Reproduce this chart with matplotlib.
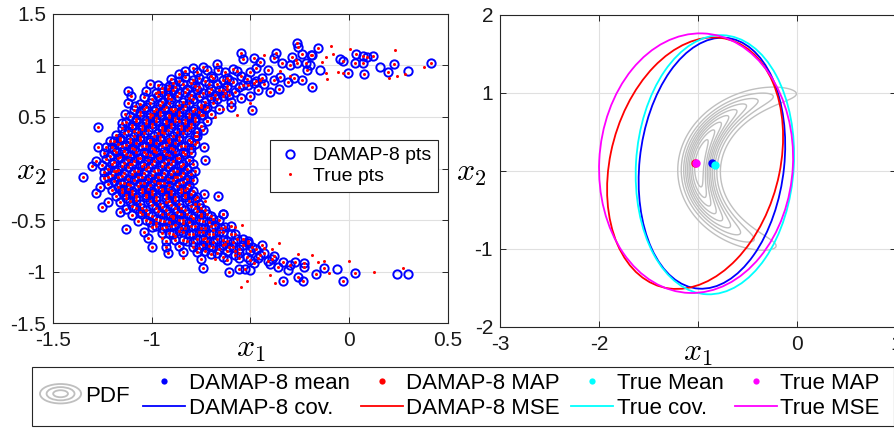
import numpy as np
import matplotlib.pyplot as plt
from matplotlib.patches import Ellipse, Rectangle
from matplotlib.legend_handler import HandlerBase
from matplotlib.lines import Line2D

plt.rcParams['font.family'] = ['Liberation Sans', 'DejaVu Sans']
plt.rcParams['mathtext.fontset'] = 'cm'
plt.rcParams['axes.unicode_minus'] = False

CYAN = '#00ffff'
MAGENTA = '#ff00ff'

# ---- left panel: samples (x1, x2) ----
# circle with a red dot in the middle (point in both sets)
both_pts = [
    (-0.265, 1.22), (-0.26, 1.18), (-0.55, 1.12), (-0.37, 1.12), (-0.24, 1.11), (-0.195, 1.10), (-0.16, 1.17),
    (-0.19, 1.10), (-0.54, 1.06), (-0.48, 1.07), (-0.38, 1.07), (-0.29, 1.08), (-0.45, 1.03), (-0.34, 1.02),
    (-0.265, 1.02), (-0.22, 1.02), (-0.30, 1.00), (-0.67, 1.01), (-0.79, 0.98), (-0.74, 0.99), (-0.665, 0.96),
    (-0.59, 0.97), (-0.47, 0.98), (-0.50, 0.94), (-0.41, 0.96), (-0.215, 0.96), (-0.35, 0.89),
    (-0.03, 1.04), (-0.006, 0.93), (0.035, 1.11), (0.03, 1.02), (0.07, 1.09), (0.07, 1.02), (0.09, 1.08),
    (0.12, 1.09), (0.075, 0.92), (0.195, 0.94), (0.225, 1.01), (0.415, 1.02), (-0.19, 0.79),
    (-0.40, 0.74), (-0.356, 0.77), (-0.49, 0.57), (-0.48, 0.83), (-0.51, 0.81), (-0.56, 0.79), (-0.55, 0.68),
    (-0.60, 0.60), (-0.61, 0.71), (-0.64, 0.86), (-0.74, 0.52), (-0.74, 0.37), (-0.77, 0.32),
    (-0.86, 0.92), (-0.89, 0.83), (-0.92, 0.77), (-1.01, 0.82), (-1.12, 0.75), (-1.105, 0.70), (-1.12, 0.64),
    (-1.085, 0.61), (-1.135, 0.53), (-1.27, 0.40), (-1.27, 0.21), (-1.23, 0.21), (-1.19, 0.27), (-1.28, 0.07),
    (-1.30, 0.02),
    (-0.83, 0.89), (-0.76, 0.88), (-0.70, 0.90), (-0.62, 0.88), (-0.55, 0.90), (-0.44, 0.88), (-0.28, 0.88),
    (-0.86, 0.85), (-0.80, 0.83), (-0.73, 0.85), (-0.67, 0.82), (-0.59, 0.84), (-0.43, 0.82), (-0.31, 0.84),
    (-0.24, 0.86),
    (-0.95, 0.78), (-0.88, 0.79), (-0.82, 0.77), (-0.76, 0.79), (-0.70, 0.77), (-0.64, 0.76), (-0.46, 0.76),
    (-0.98, 0.73), (-0.92, 0.71), (-0.86, 0.73), (-0.80, 0.71), (-0.74, 0.73), (-0.68, 0.71), (-0.63, 0.73),
    (-0.50, 0.70),
    (-1.00, 0.67), (-0.95, 0.65), (-0.90, 0.67), (-0.84, 0.65), (-0.79, 0.67), (-0.73, 0.65), (-0.67, 0.67),
    (-0.60, 0.65),
    (-1.03, 0.60), (-0.98, 0.58), (-0.93, 0.60), (-0.88, 0.58), (-0.83, 0.61), (-0.78, 0.58), (-0.72, 0.60),
    (-0.66, 0.58),
    (-1.06, 0.55), (-1.01, 0.53), (-0.96, 0.55), (-0.91, 0.52), (-0.86, 0.55), (-0.81, 0.53), (-0.76, 0.55),
    (-0.70, 0.53),
    (-1.08, 0.48), (-1.03, 0.47), (-0.98, 0.49), (-0.93, 0.46), (-0.88, 0.49), (-0.83, 0.47), (-0.78, 0.49),
    (-0.72, 0.46),
    (-1.15, 0.44), (-1.10, 0.42), (-1.05, 0.41), (-1.00, 0.43), (-0.95, 0.40), (-0.90, 0.43), (-0.85, 0.41),
    (-0.80, 0.43), (-0.75, 0.41),
    (-1.12, 0.36), (-1.07, 0.35), (-1.02, 0.37), (-0.97, 0.34), (-0.92, 0.37), (-0.87, 0.35), (-0.82, 0.37),
    (-0.77, 0.35),
    (-1.16, 0.30), (-1.11, 0.29), (-1.06, 0.31), (-1.01, 0.28), (-0.96, 0.31), (-0.91, 0.29), (-0.86, 0.31),
    (-0.81, 0.28),
    (-1.17, 0.24), (-1.13, 0.23), (-1.08, 0.25), (-1.03, 0.22), (-0.98, 0.25), (-0.93, 0.23), (-0.88, 0.25),
    (-0.83, 0.22), (-0.78, 0.24),
    (-1.19, 0.18), (-1.14, 0.17), (-1.09, 0.19), (-1.04, 0.16), (-0.99, 0.19), (-0.94, 0.17), (-0.89, 0.19),
    (-0.84, 0.16), (-0.735, 0.21),
    (-1.21, 0.12), (-1.16, 0.11), (-1.11, 0.13), (-1.06, 0.10), (-1.01, 0.13), (-0.96, 0.11), (-0.91, 0.13),
    (-0.86, 0.10), (-0.80, 0.15),
    (-1.19, 0.06), (-1.14, 0.05), (-1.09, 0.07), (-1.04, 0.04), (-0.99, 0.07), (-0.94, 0.05), (-0.89, 0.07),
    (-0.84, 0.04), (-0.73, 0.08),
    (-1.22, 0.00), (-1.17, -0.01), (-1.12, 0.01), (-1.07, -0.02), (-1.02, 0.01), (-0.97, -0.01), (-0.92, 0.01),
    (-0.87, -0.02), (-0.82, 0.00),
    (-1.35, -0.08), (-1.22, -0.08), (-1.20, -0.06), (-1.15, -0.07), (-1.10, -0.05), (-1.05, -0.08), (-1.00, -0.06),
    (-0.95, -0.08), (-0.90, -0.05), (-0.85, -0.07), (-0.80, -0.05),
    (-1.19, -0.12), (-1.14, -0.14), (-1.09, -0.11), (-1.04, -0.14), (-0.99, -0.12), (-0.94, -0.14), (-0.89, -0.11),
    (-0.84, -0.13), (-0.79, -0.11),
    (-1.26, -0.18), (-1.17, -0.18), (-1.12, -0.20), (-1.07, -0.17), (-1.02, -0.20), (-0.97, -0.18), (-0.92, -0.20),
    (-0.87, -0.17), (-0.82, -0.19),
    (-1.28, -0.24), (-1.15, -0.23), (-1.10, -0.25), (-1.05, -0.23), (-1.00, -0.25), (-0.95, -0.22), (-0.90, -0.25),
    (-0.85, -0.23), (-0.80, -0.25), (-0.735, -0.25),
    (-1.22, -0.33), (-1.13, -0.29), (-1.08, -0.31), (-1.03, -0.28), (-0.98, -0.31), (-0.93, -0.29), (-0.88, -0.31),
    (-0.83, -0.28), (-0.78, -0.30),
    (-1.25, -0.37), (-1.10, -0.36), (-1.05, -0.38), (-1.00, -0.35), (-0.95, -0.37), (-0.90, -0.35), (-0.85, -0.38),
    (-0.80, -0.36), (-0.75, -0.38),
    (-1.16, -0.42), (-1.06, -0.42), (-1.02, -0.44), (-0.97, -0.41), (-0.92, -0.44), (-0.87, -0.42), (-0.82, -0.44),
    (-0.77, -0.41), (-0.72, -0.44), (-0.64, -0.44),
    (-1.03, -0.50), (-0.98, -0.49), (-0.94, -0.51), (-0.89, -0.48), (-0.84, -0.50), (-0.79, -0.48), (-0.74, -0.51),
    (-0.69, -0.49),
    (-1.13, -0.59), (-0.98, -0.56), (-0.93, -0.57), (-0.88, -0.55), (-0.83, -0.58), (-0.78, -0.56), (-0.73, -0.58),
    (-0.68, -0.55), (-0.63, -0.57),
    (-1.04, -0.62), (-1.02, -0.67), (-0.91, -0.63), (-0.86, -0.61), (-0.81, -0.64), (-0.76, -0.62), (-0.71, -0.64),
    (-0.66, -0.62), (-0.60, -0.64),
    (-0.93, -0.70), (-0.84, -0.69), (-0.79, -0.71), (-0.74, -0.68), (-0.69, -0.71), (-0.64, -0.69), (-0.59, -0.71),
    (-0.54, -0.68),
    (-1.00, -0.76), (-0.93, -0.76), (-0.76, -0.77), (-0.71, -0.75), (-0.66, -0.78), (-0.61, -0.76), (-0.56, -0.78),
    (-0.51, -0.72), (-0.47, -0.78),
    (-0.92, -0.82), (-0.84, -0.81), (-0.70, -0.83), (-0.64, -0.86), (-0.58, -0.84), (-0.52, -0.86), (-0.45, -0.84),
    (-0.41, -0.90),
    (-0.74, -0.97), (-0.61, -1.00), (-0.56, -0.98), (-0.53, -0.98), (-0.48, -0.92), (-0.36, -0.96), (-0.335, -0.91),
    (-0.275, -0.91), (-0.23, -0.92), (-0.23, -0.96), (-0.17, -1.02), (-0.26, -1.05), (-0.335, -1.09),
    (-0.235, -1.09), (-0.13, -0.97), (-0.03, -1.09), (0.03, -1.01), (-0.665, -0.27), (-0.64, -0.44),
]
# second layer of the dense core, between the rows above
both_pts_core = [
    (-0.83, 0.95), (-0.77, 0.94), (-0.72, 0.96), (-0.63, 0.94), (-0.57, 0.95),
    (-0.90, 0.87), (-0.79, 0.86), (-0.69, 0.88), (-0.61, 0.86), (-0.52, 0.87), (-0.47, 0.85), (-0.38, 0.86),
    (-0.97, 0.81), (-0.91, 0.80), (-0.84, 0.82), (-0.78, 0.80), (-0.71, 0.82), (-0.62, 0.80), (-0.54, 0.81),
    (-1.03, 0.75), (-0.95, 0.74), (-0.89, 0.76), (-0.83, 0.74), (-0.77, 0.76), (-0.71, 0.74), (-0.66, 0.76),
    (-0.58, 0.74),
    (-1.04, 0.69), (-0.97, 0.70), (-0.92, 0.68), (-0.87, 0.70), (-0.81, 0.68), (-0.76, 0.70), (-0.70, 0.68),
    (-0.64, 0.70),
    (-1.06, 0.63), (-1.01, 0.64), (-0.96, 0.62), (-0.91, 0.64), (-0.86, 0.62), (-0.81, 0.64), (-0.75, 0.62),
    (-0.69, 0.64),
    (-1.09, 0.57), (-1.04, 0.58), (-0.99, 0.56), (-0.94, 0.58), (-0.89, 0.56), (-0.84, 0.58), (-0.79, 0.56),
    (-0.73, 0.58),
    (-1.11, 0.51), (-1.06, 0.52), (-1.01, 0.50), (-0.96, 0.52), (-0.91, 0.50), (-0.86, 0.52), (-0.81, 0.50),
    (-0.75, 0.52),
    (-1.13, 0.45), (-1.08, 0.46), (-1.03, 0.44), (-0.98, 0.46), (-0.93, 0.44), (-0.88, 0.46), (-0.83, 0.44),
    (-0.78, 0.46),
    (-1.15, 0.39), (-1.10, 0.40), (-1.05, 0.38), (-1.00, 0.40), (-0.95, 0.38), (-0.90, 0.40), (-0.85, 0.38),
    (-0.80, 0.40),
    (-1.18, 0.33), (-1.14, 0.34), (-1.09, 0.32), (-1.04, 0.34), (-0.99, 0.32), (-0.94, 0.34), (-0.89, 0.32),
    (-0.84, 0.34), (-0.78, 0.32),
    (-1.21, 0.27), (-1.16, 0.28), (-1.11, 0.26), (-1.06, 0.28), (-1.01, 0.26), (-0.96, 0.28), (-0.91, 0.26),
    (-0.86, 0.28), (-0.80, 0.26),
    (-1.20, 0.21), (-1.15, 0.22), (-1.10, 0.20), (-1.05, 0.22), (-1.00, 0.20), (-0.95, 0.22), (-0.90, 0.20),
    (-0.85, 0.22), (-0.80, 0.20),
    (-1.24, 0.15), (-1.18, 0.16), (-1.13, 0.14), (-1.08, 0.16), (-1.03, 0.14), (-0.98, 0.16), (-0.93, 0.14),
    (-0.88, 0.16), (-0.83, 0.14),
    (-1.23, 0.09), (-1.17, 0.10), (-1.12, 0.08), (-1.07, 0.10), (-1.02, 0.08), (-0.97, 0.10), (-0.92, 0.08),
    (-0.87, 0.10), (-0.81, 0.08),
    (-1.25, 0.03), (-1.20, 0.04), (-1.15, 0.02), (-1.10, 0.04), (-1.05, 0.02), (-1.00, 0.04), (-0.95, 0.02),
    (-0.90, 0.04), (-0.85, 0.02), (-0.79, 0.04),
    (-1.24, -0.03), (-1.19, -0.02), (-1.14, -0.04), (-1.09, -0.02), (-1.04, -0.04), (-0.99, -0.02), (-0.94, -0.04),
    (-0.89, -0.02), (-0.84, -0.04), (-0.78, -0.02),
    (-1.24, -0.09), (-1.17, -0.08), (-1.12, -0.10), (-1.07, -0.08), (-1.02, -0.10), (-0.97, -0.08), (-0.92, -0.10),
    (-0.87, -0.08), (-0.82, -0.10),
    (-1.22, -0.15), (-1.16, -0.14), (-1.11, -0.16), (-1.06, -0.14), (-1.01, -0.16), (-0.96, -0.14), (-0.91, -0.16),
    (-0.86, -0.14), (-0.81, -0.16),
    (-1.20, -0.21), (-1.15, -0.20), (-1.10, -0.22), (-1.05, -0.20), (-1.00, -0.22), (-0.95, -0.20), (-0.90, -0.22),
    (-0.85, -0.20), (-0.79, -0.22),
    (-1.18, -0.27), (-1.13, -0.26), (-1.08, -0.28), (-1.03, -0.26), (-0.98, -0.28), (-0.93, -0.26), (-0.88, -0.28),
    (-0.83, -0.26), (-0.77, -0.28),
    (-1.16, -0.33), (-1.11, -0.32), (-1.06, -0.34), (-1.01, -0.32), (-0.96, -0.34), (-0.91, -0.32), (-0.86, -0.34),
    (-0.81, -0.32), (-0.76, -0.34),
    (-1.13, -0.39), (-1.08, -0.38), (-1.03, -0.40), (-0.98, -0.38), (-0.93, -0.40), (-0.88, -0.38), (-0.83, -0.40),
    (-0.78, -0.38), (-0.73, -0.40),
    (-1.10, -0.45), (-1.05, -0.44), (-1.00, -0.46), (-0.95, -0.44), (-0.90, -0.46), (-0.85, -0.44), (-0.80, -0.46),
    (-0.75, -0.44), (-0.70, -0.46),
    (-1.07, -0.51), (-1.01, -0.52), (-0.96, -0.50), (-0.91, -0.52), (-0.86, -0.50), (-0.81, -0.52), (-0.76, -0.50),
    (-0.71, -0.52), (-0.66, -0.50),
    (-1.00, -0.57), (-0.95, -0.58), (-0.90, -0.56), (-0.85, -0.58), (-0.80, -0.56), (-0.75, -0.58), (-0.70, -0.56),
    (-0.65, -0.58), (-0.60, -0.56),
    (-0.95, -0.63), (-0.89, -0.64), (-0.84, -0.62), (-0.79, -0.64), (-0.74, -0.62), (-0.69, -0.64), (-0.64, -0.62),
    (-0.58, -0.64),
    (-0.88, -0.69), (-0.82, -0.70), (-0.77, -0.68), (-0.72, -0.70), (-0.67, -0.68), (-0.62, -0.70), (-0.57, -0.68),
    (-0.51, -0.70),
    (-0.86, -0.75), (-0.79, -0.76), (-0.74, -0.74), (-0.69, -0.76), (-0.64, -0.74), (-0.59, -0.76), (-0.54, -0.74),
    (-0.49, -0.76), (-0.44, -0.74),
    (-0.77, -0.81), (-0.73, -0.80), (-0.67, -0.82), (-0.62, -0.80), (-0.56, -0.82), (-0.50, -0.80), (-0.43, -0.82),
    (-0.38, -0.85),
    (-0.75, -0.88), (-0.62, -0.89), (-0.56, -0.87), (-0.50, -0.89), (-0.46, -0.87), (-0.39, -0.88), (-0.30, -0.94),
]
# circle only
damap_only_pts = [
    (-0.15, 0.96), (-0.047, 1.06), (0.155, 0.99), (0.30, 0.95), (-0.20, 1.00),
    (-0.31, -0.99), (-0.50, -0.99), (-0.06, -0.98), (0.24, -1.02), (0.30, -1.02), (-0.40, -0.93),
]
# red dot only
true_only_pts = [
    (-0.09, 1.19), (0.004, 1.16), (-0.12, 1.08), (-0.08, 1.11), (-0.14, 1.03), (-0.12, 0.93), (-0.11, 0.87),
    (-0.057, 0.94), (-0.03, 0.93), (0.23, 1.15), (0.20, 0.88), (0.24, 0.90), (0.28, 0.92), (0.38, 0.99),
    (-0.97, 0.74), (-0.62, 0.77), (-0.45, 0.86), (-0.30, 0.90), (-0.27, 1.05), (-0.57, 0.52), (-0.50, 0.64),
    (-0.68, 0.50), (-0.35, 0.95), (-0.43, 1.10),
    (0.125, -1.00), (0.27, -0.97), (0.00, -0.90), (-0.10, -1.01), (-0.13, -0.90), (-0.19, -0.84), (-0.26, -0.83),
    (-0.16, -0.91), (-0.375, -1.11), (-0.40, -1.03), (-0.356, -0.72), (-0.39, -0.78), (-0.43, -0.77),
    (-0.52, -1.09), (-0.55, -1.15), (-0.545, -0.55), (-0.58, -0.57), (-0.84, -0.87), (-0.95, -0.67),
    (-0.73, -0.32),
    (-0.90, 0.58), (-0.75, 0.60), (-0.64, 0.58), (-1.00, 0.52), (-0.86, 0.46), (-0.72, 0.46), (-1.09, 0.36),
    (-0.95, 0.35), (-0.81, 0.39), (-1.06, 0.29), (-0.92, 0.28), (-0.77, 0.26), (-1.14, 0.17), (-0.99, 0.17),
    (-0.84, 0.16), (-1.11, 0.04), (-0.96, 0.10), (-0.81, 0.08), (-1.18, -0.02), (-1.03, 0.00), (-0.88, -0.08),
    (-1.12, -0.15), (-0.97, -0.14), (-0.83, -0.21), (-1.08, -0.27), (-0.93, -0.33), (-0.78, -0.34),
    (-1.03, -0.40), (-0.89, -0.46), (-0.75, -0.46), (-0.98, -0.53), (-0.84, -0.53), (-0.69, -0.60),
    (-0.88, -0.66), (-0.73, -0.67), (-0.63, -0.73), (-0.58, -0.80), (-0.68, -0.88),
]

x1_ticks_left = [-1.5, -1, -0.5, 0, 0.5]
x1_labels_left = ['-1.5', '-1', '', '0', '0.5']
x2_ticks_left = [-1.5, -1, -0.5, 0, 0.5, 1, 1.5]
x2_labels_left = ['-1.5', '-1', '-0.5', '', '0.5', '1', '1.5']

# ---- right panel ----
# PDF (polar banana): radius, spread, angle (deg), angular spread (rad)
pdf_r0, pdf_sr = 1.0, 0.10
pdf_theta0, pdf_st = 174.0, 0.68
pdf_levels = [0.1, 0.2, 0.3, 0.4, 0.5, 0.6, 0.7, 0.8, 0.9]

damap_mean = (-0.86, 0.10)
damap_map = (-1.03, 0.10)
true_mean = (-0.83, 0.08)
true_map = (-1.02, 0.10)

damap_cov = [[0.548, 0.17], [0.17, 2.59]]
damap_mse = [[0.79, 0.30], [0.30, 2.60]]
true_cov = [[0.64, 0.10], [0.10, 2.76]]
true_mse = [[0.96, 0.07], [0.07, 2.77]]

x1_ticks_right = [-3, -2, -1, 0, 1]
x1_labels_right = ['-3', '-2', '', '0', '1']
x2_ticks_right = [-2, -1, 0, 1, 2]
x2_labels_right = ['-2', '-1', '', '1', '2']


def cov_ellipse(center, cov, color):
    vals, vecs = np.linalg.eigh(np.array(cov))
    ang = np.degrees(np.arctan2(vecs[1, 1], vecs[0, 1]))
    return Ellipse(center, 2 * np.sqrt(vals[1]), 2 * np.sqrt(vals[0]), angle=ang,
                   fill=False, ec=color, lw=1.3, zorder=4)


class PdfRings(HandlerBase):
    def create_artists(self, legend, orig_handle, xdescent, ydescent, width, height, fontsize, trans):
        cx, cy = width / 2 - xdescent, height / 2 - ydescent
        out = []
        for f in (1.0, 0.68, 0.36):
            out.append(Ellipse((cx, cy), width * f, height * 1.25 * f, fill=False,
                               ec='0.75', lw=1.3, transform=trans))
        return out


def style_axes(ax):
    ax.tick_params(direction='in', top=True, right=True, length=4, width=0.7,
                   labelsize=15, colors='0.15', labelcolor='0.1')
    ax.tick_params(axis='x', pad=6)
    ax.tick_params(axis='y', pad=5)
    for s in ax.spines.values():
        s.set_color('0.15')
        s.set_linewidth(0.8)
    ax.grid(True, color='0.88', lw=0.8)
    ax.set_axisbelow(True)


fig = plt.figure(figsize=(8.95, 4.32), dpi=100)
ax1 = fig.add_axes([0.0592, 0.2523, 0.4413, 0.7153])
ax2 = fig.add_axes([0.5587, 0.2431, 0.4425, 0.7222])

# left
shared = np.vstack([np.array(both_pts), np.array(both_pts_core)])
damap = np.vstack([shared, np.array(damap_only_pts)])
true = np.vstack([shared, np.array(true_only_pts)])
h_d, = ax1.plot(damap[:, 0], damap[:, 1], 'o', mfc='none', mec='b', ms=6.0, mew=1.4, ls='none')
h_t, = ax1.plot(true[:, 0], true[:, 1], 'o', color='r', ms=2.2, mew=0, ls='none')
ax1.set_xlim(-1.5, 0.5)
ax1.set_ylim(-1.5, 1.5)
ax1.set_xticks(x1_ticks_left)
ax1.set_xticklabels(x1_labels_left)
ax1.set_yticks(x2_ticks_left)
ax1.set_yticklabels(x2_labels_left)
style_axes(ax1)
leg1 = ax1.legend([h_d, h_t], ['DAMAP-8 pts', 'True pts'], loc='upper left',
                  bbox_to_anchor=(0.549, 0.592), fontsize=14, frameon=True, fancybox=False,
                  edgecolor='0.15', framealpha=1, borderpad=0.35, handlelength=1.35,
                  handletextpad=0.5, labelspacing=0.15, borderaxespad=0)
leg1.get_frame().set_linewidth(0.8)

# right
gx = np.linspace(-3, 1, 500)
gy = np.linspace(-2, 2, 500)
X, Y = np.meshgrid(gx, gy)
R = np.hypot(X, Y)
dth = np.angle(np.exp(1j * (np.arctan2(Y, X) - np.radians(pdf_theta0))))
P = np.exp(-0.5 * ((R - pdf_r0) / pdf_sr) ** 2 - 0.5 * (dth / pdf_st) ** 2) / R
ax2.contour(X, Y, P, levels=np.array(pdf_levels) * P.max(), colors='0.75', linewidths=1.0, zorder=2)

ax2.plot(*damap_mean, 'o', color='b', ms=5, zorder=5)
ax2.plot(*damap_map, 'o', color='r', ms=5, zorder=5)
ax2.plot(*true_mean, 'o', color=CYAN, ms=5, zorder=5)
ax2.plot(*true_map, 'o', color=MAGENTA, ms=5, zorder=5)
ax2.add_patch(cov_ellipse(damap_mean, damap_cov, 'b'))
ax2.add_patch(cov_ellipse(damap_map, damap_mse, 'r'))
ax2.add_patch(cov_ellipse(true_mean, true_cov, CYAN))
ax2.add_patch(cov_ellipse(true_map, true_mse, MAGENTA))
ax2.set_xlim(-3, 1)
ax2.set_ylim(-2, 2)
ax2.set_xticks(x1_ticks_right)
ax2.set_xticklabels(x1_labels_right)
ax2.set_yticks(x2_ticks_right)
ax2.set_yticklabels(x2_labels_right)
style_axes(ax2)

for ax, lx, ly in ((ax1, -0.056, 0.49), (ax2, -0.073, 0.494)):
    ax.set_xlabel(r'$x_1$', fontsize=23)
    ax.xaxis.set_label_coords(0.5, -0.035)
    ax.set_ylabel(r'$x_2$', fontsize=23, rotation=0, va='center', ha='center')
    ax.yaxis.set_label_coords(lx, ly)

# bottom legend
fig.patches.append(Rectangle((32 / 895, 1 - 426 / 432), 862 / 895, 59 / 432, transform=fig.transFigure,
                             fill=False, ec='0.15', lw=0.8))
pdf_h = Line2D([], [])
fig.legend([pdf_h], ['PDF'], handler_map={pdf_h: PdfRings()}, loc='center left',
           bbox_to_anchor=(40 / 895, 1 - 396 / 432), frameon=False, fontsize=16,
           handlelength=1.85, handletextpad=0.2, borderpad=0, borderaxespad=0)

mk = dict(ls='none', marker='o', ms=4.5, mew=0)
handles = [Line2D([], [], color='b', **mk), Line2D([], [], color='b', lw=1.3),
           Line2D([], [], color='r', **mk), Line2D([], [], color='r', lw=1.3),
           Line2D([], [], color=CYAN, **mk), Line2D([], [], color=CYAN, lw=1.3),
           Line2D([], [], color=MAGENTA, **mk), Line2D([], [], color=MAGENTA, lw=1.3)]
labels = ['DAMAP-8 mean', 'DAMAP-8 cov.', 'DAMAP-8 MAP', 'DAMAP-8 MSE',
          'True Mean', 'True cov.', 'True MAP', 'True MSE']
fig.legend(handles, labels, ncol=4, loc='upper left', bbox_to_anchor=(143 / 895, 1 - 373 / 432),
           frameon=False, fontsize=16, handlelength=1.9, handletextpad=0.15, columnspacing=0.5,
           labelspacing=0.18, borderpad=0, borderaxespad=0)

fig.savefig('out.png', dpi=100)
